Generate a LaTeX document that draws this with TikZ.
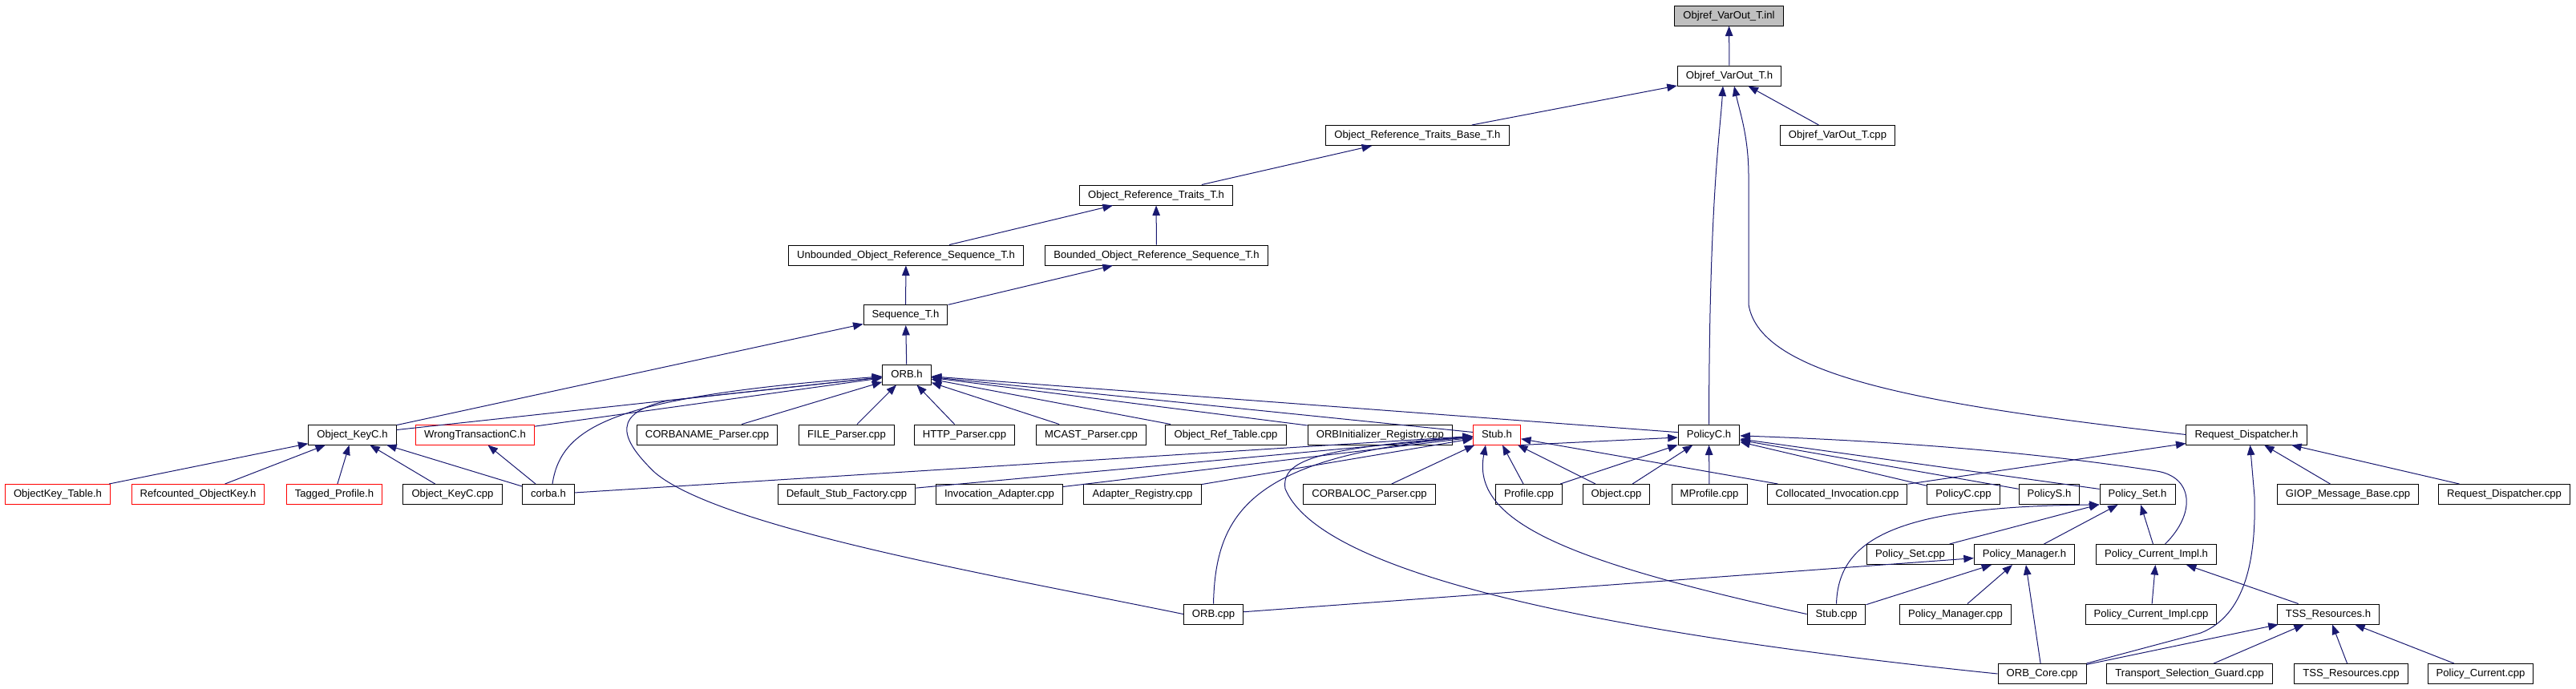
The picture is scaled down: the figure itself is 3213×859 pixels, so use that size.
\documentclass[tikz,border=0pt]{standalone}
\usepackage{fontspec}
\setmainfont{Liberation Sans}
\usetikzlibrary{arrows.meta}
\definecolor{edgeblue}{RGB}{25,25,112}
\definecolor{boxgray}{RGB}{191,191,191}
\begin{document}
\begin{tikzpicture}[x=0.5pt,y=-0.5pt,
  file/.style={draw,line width=0.5pt,inner xsep=5.3pt,inner ysep=0pt,minimum height=12.5pt,
    text height=4.9pt,text depth=1.4pt,font=\fontsize{6.55pt}{7.5pt}\selectfont},
  missing/.style={file,draw=red},
  dep/.style={draw=edgeblue,line width=0.5pt,-{Triangle[length=6.25pt,width=4.75pt]}}]
\useasboundingbox (0,0) rectangle (3213,859);
% Draw the file boxes, row by row
\node[file,fill=boxgray] (inl) at (2156.5,19.5) {Objref\_VarOut\_T.inl};
\node[file] (varouth) at (2157,94.5) {Objref\_VarOut\_T.h};
\node[file] (traitsbase) at (1768,169) {Object\_Reference\_Traits\_Base\_T.h};
\node[file] (varoutcpp) at (2292,169) {Objref\_VarOut\_T.cpp};
\node[file] (traits) at (1442,243.5) {Object\_Reference\_Traits\_T.h};
\node[file] (unbounded) at (1130,318.5) {Unbounded\_Object\_Reference\_Sequence\_T.h};
\node[file] (bounded) at (1442.5,318.5) {Bounded\_Object\_Reference\_Sequence\_T.h};
\node[file] (seq) at (1129.5,393) {Sequence\_T.h};
\node[file] (orbh) at (1131,467.5) {ORB.h};
% row of headers below ORB.h
\node[file] (keyc) at (439.5,542.5) {Object\_KeyC.h};
\node[missing] (wrongtx) at (592.5,542.5) {WrongTransactionC.h};
\node[file] (corbaname) at (882,542.5) {CORBANAME\_Parser.cpp};
\node[file] (fileparser) at (1056,542.5) {FILE\_Parser.cpp};
\node[file] (httpparser) at (1203,542.5) {HTTP\_Parser.cpp};
\node[file] (mcastparser) at (1361,542.5) {MCAST\_Parser.cpp};
\node[file] (reftable) at (1529,542.5) {Object\_Ref\_Table.cpp};
\node[file] (orbinit) at (1721.4,542.5) {ORBInitializer\_Registry.cpp};
\node[missing] (stubh) at (1867,542.5) {Stub.h};
\node[file] (policyc) at (2131.5,542.5) {PolicyC.h};
\node[file] (dispatchh) at (2802,542.5) {Request\_Dispatcher.h};
% next row
\node[missing] (keytable) at (72,617) {ObjectKey\_Table.h};
\node[missing] (refcounted) at (247,617) {Refcounted\_ObjectKey.h};
\node[missing] (tagged) at (417,617) {Tagged\_Profile.h};
\node[file] (keyccpp) at (564.5,617) {Object\_KeyC.cpp};
\node[file] (corbah) at (684,617) {corba.h};
\node[file] (stubfactory) at (1056,617) {Default\_Stub\_Factory.cpp};
\node[file] (invadapter) at (1246.5,617) {Invocation\_Adapter.cpp};
\node[file] (adapterreg) at (1425,617) {Adapter\_Registry.cpp};
\node[file] (corbaloc) at (1708,617) {CORBALOC\_Parser.cpp};
\node[file] (profile) at (1907,617) {Profile.cpp};
\node[file] (objectcpp) at (2016,617) {Object.cpp};
\node[file] (mprofile) at (2132,617) {MProfile.cpp};
\node[file] (collocated) at (2291.5,617) {Collocated\_Invocation.cpp};
\node[file] (policyccpp) at (2449,617) {PolicyC.cpp};
\node[file] (policys) at (2556,617) {PolicyS.h};
\node[file] (policyseth) at (2666,617) {Policy\_Set.h};
\node[file] (giop) at (2928.5,617) {GIOP\_Message\_Base.cpp};
\node[file] (dispatchcpp) at (3123.5,617) {Request\_Dispatcher.cpp};
% policy rows
\node[file] (policysetcpp) at (2382.5,692) {Policy\_Set.cpp};
\node[file] (policymgrh) at (2525,692) {Policy\_Manager.h};
\node[file] (currimplh) at (2689.5,692) {Policy\_Current\_Impl.h};
\node[file] (orbcpp) at (1513.5,766.5) {ORB.cpp};
\node[file] (stubcpp) at (2290.5,766.5) {Stub.cpp};
\node[file] (policymgrcpp) at (2439,766.5) {Policy\_Manager.cpp};
\node[file] (currimplcpp) at (2683,766.5) {Policy\_Current\_Impl.cpp};
\node[file] (tssh) at (2904,766.5) {TSS\_Resources.h};
\node[file] (orbcore) at (2547,841) {ORB\_Core.cpp};
\node[file] (tsguard) at (2731,841) {Transport\_Selection\_Guard.cpp};
\node[file] (tsscpp) at (2932.5,841) {TSS\_Resources.cpp};
\node[file] (policycurrent) at (3094,841) {Policy\_Current.cpp};
% Draw the top of the graph
\draw[dep] (varouth) -- (inl);
\draw[dep] (traitsbase) -- (varouth);
\draw[dep] (varoutcpp) -- (varouth);
\draw[dep] (policyc.north) .. controls (2132,250) and (2145,170) .. ([xshift=-4pt]varouth.south);
\draw[dep] (dispatchh.west) .. controls (2400,505) and (2195,470) .. (2181,380) -- (2181,220) .. controls (2181,170) and (2170,140) .. ([xshift=3pt]varouth.south);
\draw[dep] (traits) -- (traitsbase);
\draw[dep] (unbounded) -- (traits);
\draw[dep] (bounded) -- (traits);
\draw[dep] (seq) -- (unbounded);
\draw[dep] (seq) -- (bounded);
\draw[dep] (orbh) -- (seq);
\draw[dep] (keyc) -- (seq);
% Draw the lines into ORB.h
\draw[dep] (keyc) -- (orbh);
\draw[dep] (wrongtx) -- (orbh);
\draw[dep] ([xshift=2.5pt]corbah.north) .. controls (700,530) and (770,495) .. (orbh);
\draw[dep] (corbaname) -- (orbh);
\draw[dep] (fileparser) -- (orbh);
\draw[dep] (httpparser) -- (orbh);
\draw[dep] (mcastparser) -- (orbh);
\draw[dep] (reftable) -- (orbh);
\draw[dep] (orbinit) -- (orbh);
\draw[dep] (stubh) -- (orbh);
\draw[dep] (policyc) -- (orbh);
\draw[dep] (orbcpp.west) .. controls (1250,720) and (900,660) .. (817,590) .. controls (770,545) and (765,515) .. (833,500) -- (orbh);
% Draw the lines into Stub.h
\draw[dep] (corbah) -- (stubh);
\draw[dep] (stubfactory) -- (stubh);
\draw[dep] (invadapter) -- (stubh);
\draw[dep] (adapterreg) -- (stubh);
\draw[dep] (corbaloc) -- (stubh);
\draw[dep] (profile) -- (stubh);
\draw[dep] (objectcpp) -- (stubh);
\draw[dep] (collocated) -- (stubh);
\draw[dep] (orbcpp.north) .. controls (1516,640) and (1560,570) .. (stubh);
\draw[dep] (stubcpp.west) .. controls (1950,700) and (1835,650) .. ([xshift=-7pt]stubh.south);
\draw[dep] (orbcore.west) .. controls (1900,780) and (1640,700) .. (1603,610) .. controls (1598,575) and (1640,560) .. (stubh);
% Draw the lines into PolicyC.h
\draw[dep] (stubh.south east) -- ([yshift=-1.75pt]policyc.west);
\draw[dep] (profile) -- (policyc);
\draw[dep] (objectcpp) -- (policyc);
\draw[dep] (mprofile) -- (policyc);
\draw[dep] (policyccpp) -- (policyc);
\draw[dep] (policys) -- (policyc);
\draw[dep] (policyseth) -- (policyc);
\draw[dep] ([xshift=5.5pt]currimplh.north) .. controls (2740,640) and (2735,595) .. (2690,588) .. controls (2560,568) and (2400,552) .. (policyc);
% Draw the policy lines
\draw[dep] (stubcpp.north) .. controls (2293,675) and (2360,632) .. (policyseth.south west);
\draw[dep] (policysetcpp) -- (policyseth);
\draw[dep] (policymgrh) -- (policyseth);
\draw[dep] (currimplh) -- (policyseth);
\draw[dep] (orbcpp) -- (policymgrh);
\draw[dep] (stubcpp) -- (policymgrh);
\draw[dep] (policymgrcpp) -- (policymgrh);
\draw[dep] (orbcore) -- (policymgrh);
\draw[dep] (currimplcpp) -- (currimplh);
\draw[dep] (tssh) -- (currimplh);
% Draw the lines into Request_Dispatcher.h
\draw[dep] (collocated) -- (dispatchh);
\draw[dep] (giop) -- (dispatchh);
\draw[dep] (dispatchcpp) -- (dispatchh);
\draw[dep] (orbcore.north east) -- (2745,790) .. controls (2800,768) and (2814,700) .. (2812,620) -- ([xshift=2.25pt]dispatchh.south);
% Draw the lines into TSS_Resources.h
\draw[dep] (orbcore) -- (tssh);
\draw[dep] (tsguard) -- (tssh);
\draw[dep] (tsscpp) -- (tssh);
\draw[dep] (policycurrent) -- (tssh);
% Draw the lines into Object_KeyC.h
\draw[dep] (keytable) -- (keyc);
\draw[dep] (refcounted) -- (keyc);
\draw[dep] (tagged) -- (keyc);
\draw[dep] (keyccpp) -- (keyc);
\draw[dep] (corbah) -- (keyc);
\draw[dep] (corbah) -- (wrongtx);
\end{tikzpicture}
\end{document}
